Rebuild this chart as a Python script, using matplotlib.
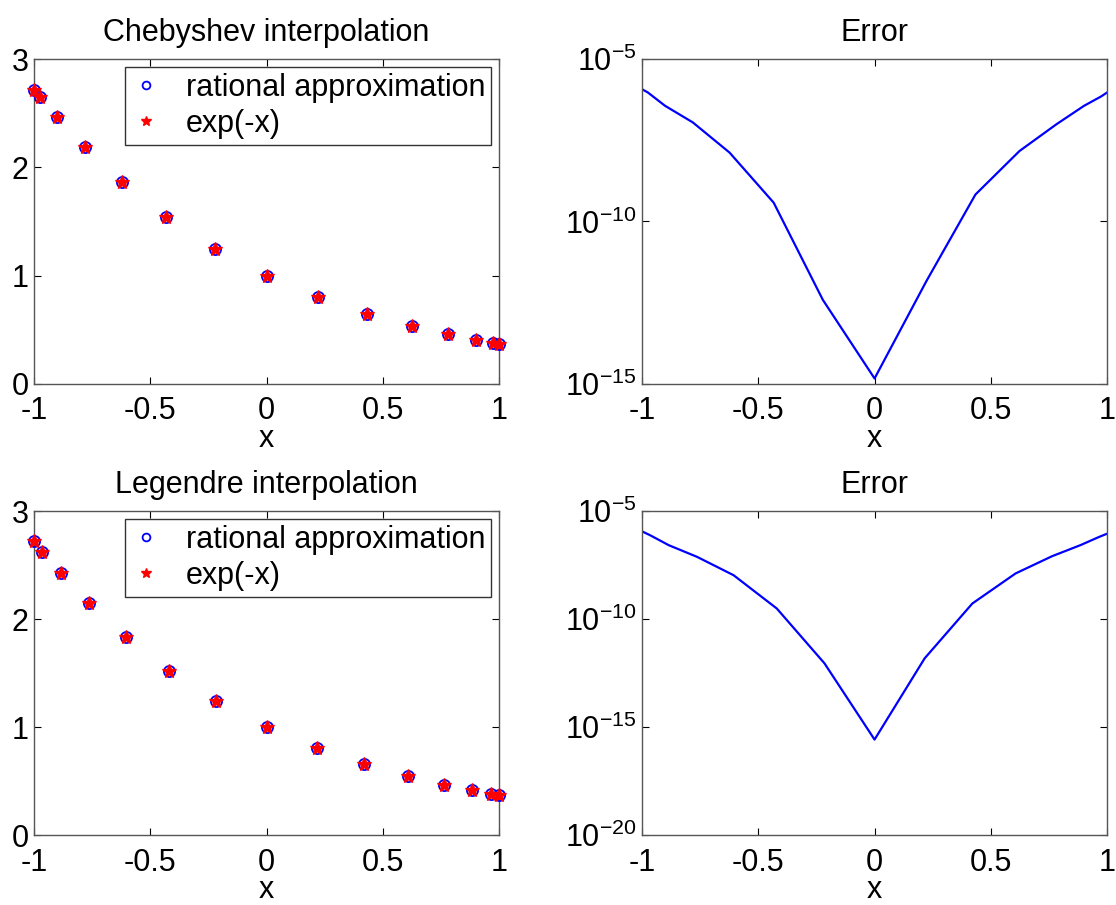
import numpy as np
import matplotlib
matplotlib.use("Agg")
import matplotlib.pyplot as plt
from matplotlib.ticker import FixedLocator, FuncFormatter, NullLocator

plt.rcParams['font.family'] = ['Liberation Sans', 'DejaVu Sans']
plt.rcParams['mathtext.fontset'] = 'custom'
plt.rcParams['mathtext.rm'] = 'Liberation Sans'
plt.rcParams['mathtext.it'] = 'Liberation Sans'
plt.rcParams['mathtext.default'] = 'regular'

# Chebyshev nodes and values
x_cheb = [-1.0, -0.9749, -0.9010, -0.7818, -0.6235, -0.4339, -0.2225, 0.0,
          0.2225, 0.4339, 0.6235, 0.7818, 0.9010, 0.9749, 1.0]
exp_cheb = [2.7183, 2.6509, 2.4621, 2.1854, 1.8654, 1.5433, 1.2492, 1.0,
            0.8005, 0.6480, 0.5361, 0.4576, 0.4062, 0.3772, 0.3679]
rat_cheb = [2.7183, 2.6509, 2.4621, 2.1854, 1.8654, 1.5433, 1.2492, 1.0,
            0.8005, 0.6480, 0.5361, 0.4576, 0.4062, 0.3772, 0.3679]
log_err_cheb = [-5.93, -6.03, -6.44, -6.95, -7.88, -9.42, -12.41, -14.83,
                -11.84, -9.17, -7.83, -7.01, -6.44, -6.15, -6.03]

# Legendre (Gauss-Lobatto) nodes and values
x_leg = [-1.0, -0.9652, -0.8851, -0.7635, -0.6063, -0.4206, -0.2154, 0.0,
         0.2154, 0.4206, 0.6063, 0.7635, 0.8851, 0.9652, 1.0]
exp_leg = [2.7183, 2.6253, 2.4232, 2.1458, 1.8336, 1.5229, 1.2404, 1.0,
           0.8062, 0.6566, 0.5454, 0.4660, 0.4127, 0.3809, 0.3679]
rat_leg = [2.7183, 2.6253, 2.4232, 2.1458, 1.8336, 1.5229, 1.2404, 1.0,
           0.8062, 0.6566, 0.5454, 0.4660, 0.4127, 0.3809, 0.3679]
log_err_leg = [-5.94, -6.12, -6.58, -7.12, -7.97, -9.51, -12.05, -15.58,
               -11.82, -9.28, -7.89, -7.09, -6.58, -6.20, -6.05]

xticks = [-1, -0.5, 0, 0.5, 1]
xticklabels = ['-1', '-0.5', '0', '0.5', '1']

fig = plt.figure(figsize=(11.16, 9.05), dpi=100)

def style(ax):
    ax.tick_params(direction='in', top=True, right=True, length=5, width=0.8,
                   labelsize=22, colors='black', pad=4)
    ax.tick_params(axis='x', pad=9)
    for s in ax.spines.values():
        s.set_color('#555555')
        s.set_linewidth(1.0)
    ax.set_xlim(-1, 1)
    ax.set_xticks(xticks)
    ax.set_xticklabels(xticklabels)
    ax.set_xlabel('x', fontsize=22, labelpad=-2)

def log_fmt(v, pos):
    return r'$10^{%d}$' % int(round(np.log10(v)))

def interp_panel(rect, title, x, rat, ex):
    ax = fig.add_axes(rect)
    ax.plot(x, rat, 'o', mfc='none', mec='#0000ff', mew=1.3, ms=8,
            label='rational approximation', clip_on=False, zorder=3)
    ax.plot(x, ex, '*', color='#ff0000', ms=10, label='exp(-x)',
            clip_on=False, zorder=4)
    ax.set_ylim(0, 3)
    ax.set_yticks([0, 1, 2, 3])
    style(ax)
    ax.set_title(title, fontsize=22, pad=13)
    leg = ax.legend(loc='upper right', fontsize=22, frameon=True, fancybox=False,
                    handlelength=1.0, handletextpad=0.8, borderpad=0.2,
                    labelspacing=0.2, borderaxespad=0.25, markerscale=0.7)
    leg.get_frame().set_edgecolor('black')
    leg.get_frame().set_linewidth(1.0)
    return ax

def error_panel(rect, x, log_err, ymin):
    ax = fig.add_axes(rect)
    err = [10.0 ** v for v in log_err]
    ax.semilogy(x, err, color='#0000ff', lw=1.6)
    ax.set_ylim(10.0 ** ymin, 1e-5)
    ax.yaxis.set_major_locator(FixedLocator([10.0 ** e for e in range(ymin, -4, 5)]))
    ax.yaxis.set_minor_locator(NullLocator())
    ax.yaxis.set_major_formatter(FuncFormatter(log_fmt))
    style(ax)
    ax.set_title('Error', fontsize=22, pad=13)
    return ax

interp_panel([0.0305, 0.5757, 0.4167, 0.3591], 'Chebyshev interpolation',
             x_cheb, rat_cheb, exp_cheb)
error_panel([0.5753, 0.5757, 0.4167, 0.3591], x_cheb, log_err_cheb, -15)
interp_panel([0.0305, 0.0773, 0.4167, 0.3580], 'Legendre interpolation',
             x_leg, rat_leg, exp_leg)
error_panel([0.5753, 0.0773, 0.4167, 0.3580], x_leg, log_err_leg, -20)

fig.savefig('out.png', dpi=100)
